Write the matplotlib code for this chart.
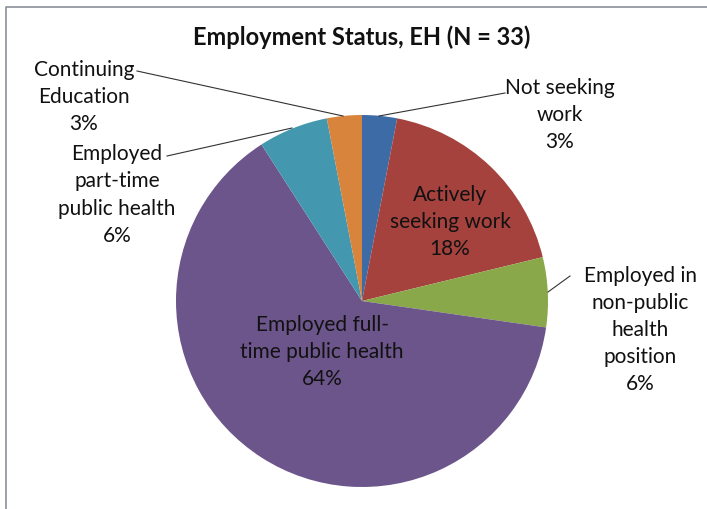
import matplotlib.pyplot as plt

# dados do gráfico (contagens, N = 33)
categorias = ["Not seeking work", "Actively seeking work",
              "Employed in non-public health position",
              "Employed full-time public health",
              "Employed part-time public health", "Continuing Education"]
contagens = [1, 6, 2, 21, 2, 1]
rotulos = ["Not seeking\nwork", "Actively\nseeking work",
           "Employed in\nnon-public\nhealth\nposition",
           "Employed full-\ntime public health",
           "Employed\npart-time\npublic health", "Continuing\nEducation"]
cores = ["#3D6BA6", "#A5423E", "#89A84A", "#6C558B", "#4397AF", "#D8843D"]
titulo = "Employment Status, EH (N = 33)"

W, H = 707, 510
fig = plt.figure(figsize=(W / 100, H / 100), dpi=100)
ax = fig.add_axes([0, 0, 1, 1])

plt.rcParams["font.family"] = ["Lato", "DejaVu Sans"]

cx, cy, r = 362, H - 302, 186
ax.pie(contagens, colors=cores, startangle=90, counterclock=False,
       center=(cx, cy), radius=r, frame=True,
       wedgeprops=dict(linewidth=0))
ax.set_xlim(0, W)
ax.set_ylim(0, H)
ax.set_aspect("equal")
ax.axis("off")

total = sum(contagens)
pct = [round(100 * v / total) for v in contagens]

# posições dos rótulos (pixels, y de cima para baixo)
pos = [(560, 115), (450, 222), (640, 330), (322, 352), (117, 195), (84, 97)]
for txt, p, (x, y) in zip(rotulos, pct, pos):
    ax.text(x, H - y, f"{txt}\n{p}%", ha="center", va="center",
            fontsize=15, color="#111111", linespacing=1.45)

# linhas de chamada
linhas = [((505, 94), (379, 117)), ((570, 277), (548, 293)),
          ((167, 157), (292, 129)), ((137, 72), (343, 117))]
for (x0, y0), (x1, y1) in linhas:
    ax.plot([x0, x1], [H - y0, H - y1], color="#333333", lw=0.8)

ax.text(362, H - 37, titulo, ha="center", va="center", fontsize=17,
        fontweight="bold", color="#111111")

# moldura
ax.plot([6, 6, W + 5], [-5, H - 8, H - 8], color="#8a8f99", lw=1.2)

fig.savefig("out.png", dpi=100)
